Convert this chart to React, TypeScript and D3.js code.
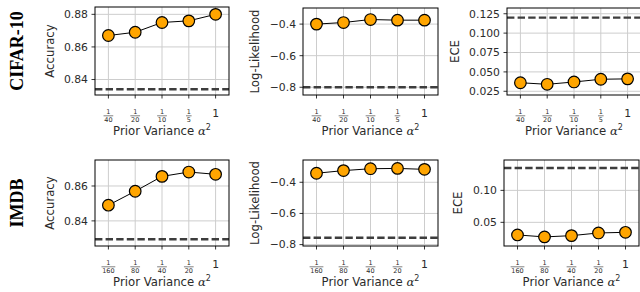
import React, { useEffect, useRef } from "react";
import * as d3 from "d3";

// data
const cifarVariance = ["1/40", "1/20", "1/10", "1/5", "1"];
const imdbVariance = ["1/160", "1/80", "1/40", "1/20", "1"];

const cifarAccuracy = [0.867, 0.869, 0.875, 0.876, 0.88];
const cifarLogLik = [-0.4, -0.39, -0.371, -0.375, -0.375];
const cifarEce = [0.036, 0.034, 0.037, 0.0405, 0.041];
const cifarBaseline = [0.834, -0.8, 0.12];

const imdbAccuracy = [0.849, 0.857, 0.8655, 0.868, 0.8667];
const imdbLogLik = [-0.342, -0.325, -0.313, -0.311, -0.317];
const imdbEce = [0.0303, 0.0272, 0.0292, 0.0334, 0.0344];
const imdbBaseline = [0.8295, -0.756, 0.135];

const accTicksCifar = [0.84, 0.86, 0.88];
const llTicks = [-0.8, -0.6, -0.4];
const eceTicksCifar = [0.025, 0.05, 0.075, 0.1, 0.125];
const accTicksImdb = [0.84, 0.86];
const eceTicksImdb = [0.05, 0.1];

const rowNames = ["CIFAR-10", "IMDB"];
const metricNames = ["Accuracy", "Log-Likelihood", "ECE"];

const SANS = "DejaVu Sans, sans-serif";
const TEXT = "#2b2b2b";

type Panel = {
  cats: string[];
  values: number[];
  baseline: number;
  domain: [number, number];
  ticks: number[];
  fmt: string;
  label: string;
  left: number;
  right: number;
  top: number;
  bottom: number;
  labelX: number;
};

const panels: Panel[] = [
  { cats: cifarVariance, values: cifarAccuracy, baseline: cifarBaseline[0], domain: [0.8305, 0.8845], ticks: accTicksCifar, fmt: ".2f", label: metricNames[0], left: 95, right: 229, top: 7, bottom: 95, labelX: 49.5 },
  { cats: cifarVariance, values: cifarLogLik, baseline: cifarBaseline[1], domain: [-0.849, -0.298], ticks: llTicks, fmt: ".1f", label: metricNames[1], left: 303, right: 438, top: 8, bottom: 95, labelX: 255 },
  { cats: cifarVariance, values: cifarEce, baseline: cifarBaseline[2], domain: [0.0202, 0.1324], ticks: eceTicksCifar, fmt: ".3f", label: metricNames[2], left: 507, right: 641, top: 8, bottom: 95, labelX: 455 },
  { cats: imdbVariance, values: imdbAccuracy, baseline: imdbBaseline[0], domain: [0.8256, 0.8749], ticks: accTicksImdb, fmt: ".2f", label: metricNames[0], left: 95, right: 229, top: 160, bottom: 246, labelX: 49.5 },
  { cats: imdbVariance, values: imdbLogLik, baseline: imdbBaseline[1], domain: [-0.809, -0.257], ticks: llTicks, fmt: ".1f", label: metricNames[1], left: 303, right: 438, top: 160, bottom: 246, labelX: 255 },
  { cats: imdbVariance, values: imdbEce, baseline: imdbBaseline[2], domain: [0.013, 0.1475], ticks: eceTicksImdb, fmt: ".2f", label: metricNames[2], left: 504, right: 639, top: 160, bottom: 246, labelX: 458 },
];

function drawPanel(svg: d3.Selection<SVGSVGElement, unknown, null, undefined>, p: Panel) {
  const g = svg.append("g");
  const x = d3.scalePoint<string>().domain(p.cats).range([p.left, p.right]).padding(0.5);
  const y = d3.scaleLinear().domain(p.domain).range([p.bottom, p.top]);
  const fmt = d3.format(p.fmt);

  // grid
  g.selectAll(".vg")
    .data(p.cats)
    .join("line")
    .attr("x1", (d) => x(d)!)
    .attr("x2", (d) => x(d)!)
    .attr("y1", p.top)
    .attr("y2", p.bottom)
    .attr("stroke", "#cdcdcd")
    .attr("stroke-width", 1);
  g.selectAll(".hg")
    .data(p.ticks)
    .join("line")
    .attr("x1", p.left)
    .attr("x2", p.right)
    .attr("y1", (d) => y(d))
    .attr("y2", (d) => y(d))
    .attr("stroke", "#cdcdcd")
    .attr("stroke-width", 1);

  // baseline
  g.append("line")
    .attr("x1", p.left)
    .attr("x2", p.right)
    .attr("y1", y(p.baseline))
    .attr("y2", y(p.baseline))
    .attr("stroke", "#3d3d3d")
    .attr("stroke-width", 2.4)
    .attr("stroke-dasharray", "7.4,3.2");

  // line + markers
  const line = d3
    .line<number>()
    .x((_, i) => x(p.cats[i])!)
    .y((d) => y(d));
  g.append("path").attr("d", line(p.values)!).attr("fill", "none").attr("stroke", "#000").attr("stroke-width", 1);
  g.selectAll("circle")
    .data(p.values)
    .join("circle")
    .attr("cx", (_, i) => x(p.cats[i])!)
    .attr("cy", (d) => y(d))
    .attr("r", 5.8)
    .attr("fill", "#ffa500")
    .attr("stroke", "#000")
    .attr("stroke-width", 1.2);

  // frame
  g.append("rect")
    .attr("x", p.left)
    .attr("y", p.top)
    .attr("width", p.right - p.left)
    .attr("height", p.bottom - p.top)
    .attr("fill", "none")
    .attr("stroke", "#000")
    .attr("stroke-width", 1);

  // y ticks
  const yt = g.selectAll(".yt").data(p.ticks).join("g").attr("transform", (d) => `translate(${p.left},${y(d)})`);
  yt.append("line").attr("x1", -3.5).attr("x2", 0).attr("stroke", "#000").attr("stroke-width", 0.8);
  yt.append("text")
    .attr("x", -7)
    .attr("dy", "0.36em")
    .attr("text-anchor", "end")
    .style("font-family", SANS)
    .style("font-size", "10.8px")
    .attr("fill", TEXT)
    .text((d) => fmt(d).replace("-", "\u2212"));

  // x ticks
  const xt = g.selectAll(".xt").data(p.cats).join("g").attr("transform", (d) => `translate(${x(d)},${p.bottom})`);
  xt.append("line").attr("y1", 0).attr("y2", 3.5).attr("stroke", "#000").attr("stroke-width", 0.8);
  xt.each(function (d) {
    const t = d3.select(this);
    const parts = d.split("/");
    if (parts.length === 1) {
      t.append("text")
        .attr("y", 21.5)
        .attr("text-anchor", "middle")
        .style("font-family", SANS)
        .style("font-size", "10.8px")
        .attr("fill", TEXT)
        .text(d);
    } else {
      const w = Math.max(parts[0].length, parts[1].length) * 4.1 + 1.5;
      t.append("text")
        .attr("y", 18.6)
        .attr("text-anchor", "middle")
        .style("font-family", SANS)
        .style("font-size", "6.5px")
        .attr("fill", TEXT)
        .text(parts[0]);
      t.append("line")
        .attr("x1", -w / 2)
        .attr("x2", w / 2)
        .attr("y1", 20.8)
        .attr("y2", 20.8)
        .attr("stroke", TEXT)
        .attr("stroke-width", 0.6);
      t.append("text")
        .attr("y", 27)
        .attr("text-anchor", "middle")
        .style("font-family", SANS)
        .style("font-size", "6.5px")
        .attr("fill", TEXT)
        .text(parts[1]);
    }
  });

  // x label
  const xl = g
    .append("text")
    .attr("x", (p.left + p.right) / 2)
    .attr("y", p.bottom + 39.5)
    .attr("text-anchor", "middle")
    .style("font-family", SANS)
    .style("font-size", "11.7px")
    .attr("fill", TEXT);
  xl.append("tspan").text("Prior Variance ");
  xl.append("tspan").style("font-family", "DejaVu Serif, serif").style("font-style", "italic").text("\u03b1");
  xl.append("tspan").attr("dy", -5).style("font-size", "8px").text("2");

  // y label
  g.append("text")
    .attr("transform", `translate(${p.labelX},${(p.top + p.bottom) / 2}) rotate(-90)`)
    .attr("dy", "0.36em")
    .attr("text-anchor", "middle")
    .style("font-family", SANS)
    .style("font-size", "11.7px")
    .attr("fill", TEXT)
    .text(p.label);
}

export default function App() {
  const ref = useRef<SVGSVGElement>(null);

  useEffect(() => {
    const svg = d3.select(ref.current!);
    svg.selectAll("*").remove();
    svg.append("rect").attr("width", 640).attr("height", 292).attr("fill", "#fff");

    panels.forEach((p) => drawPanel(svg, p));

    // row titles
    const rowCenters = [(panels[0].top + panels[0].bottom) / 2, (panels[3].top + panels[3].bottom) / 2];
    rowNames.forEach((name, i) => {
      svg
        .append("text")
        .attr("transform", `translate(16.5,${rowCenters[i]}) rotate(-90)`)
        .attr("dy", "0.35em")
        .attr("text-anchor", "middle")
        .style("font-family", "Liberation Serif, serif")
        .style("font-weight", "bold")
        .style("font-size", "18px")
        .attr("fill", "#000")
        .text(name);
    });
  }, []);

  return (
    <svg
      ref={ref}
      width={640}
      height={292}
      style={{ position: "absolute", left: 0, top: 0, display: "block" }}
    />
  );
}
